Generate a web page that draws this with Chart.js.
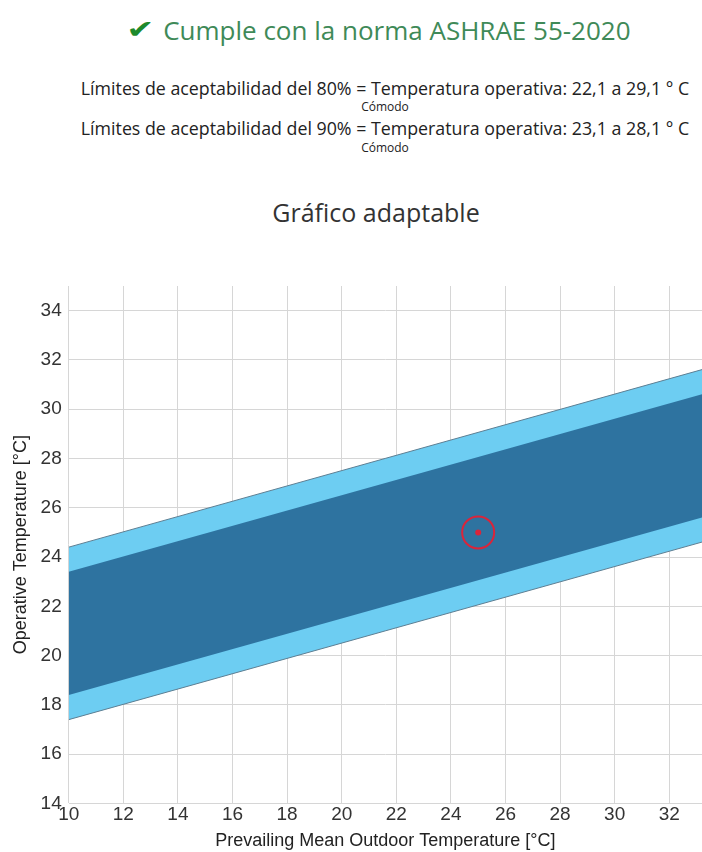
<!DOCTYPE html>
<html>
<head>
<meta charset="utf-8">
<script src="https://cdn.jsdelivr.net/npm/chart.js@4"></script>
<style>
    html, body { margin: 0; padding: 0; background: #fff; overflow: hidden; }
    body { width: 702px; height: 852px; position: relative; font-family: "Open Sans", sans-serif; }
    .head { position: absolute; left: 0; text-align: center; color: #333; white-space: nowrap; }
    #status { top: 12px; width: 758px; font-size: 26px; line-height: 34px; color: #3f8a58; }
    #status .tick { display: inline-block; font-family: "DejaVu Sans", sans-serif; color: #1d8a2c; font-size: 32px; margin-right: 9px; transform: scale(1.05, 0.8); }
    .limit { width: 770px; font-size: 17.8px; line-height: 24px; color: #222; }
    .note { width: 770px; font-size: 12px; line-height: 16px; color: #222; }
    #title { top: 195px; width: 752px; font-size: 25px; line-height: 34px; color: #333; }
    #chart-box { position: absolute; left: 0; top: 262px; width: 702px; height: 590px; }
</style>
</head>
<body>
<div class="head" id="status"><span class="tick">✔</span>Cumple con la norma ASHRAE 55-2020</div>
<div class="head limit" style="top: 76px;">Límites de aceptabilidad del 80% = Temperatura operativa: 22,1 a 29,1 ° C</div>
<div class="head note" style="top: 99px;">Cómodo</div>
<div class="head limit" style="top: 116px;">Límites de aceptabilidad del 90% = Temperatura operativa: 23,1 a 28,1 ° C</div>
<div class="head note" style="top: 140px;">Cómodo</div>
<div class="head" id="title">Gráfico adaptable</div>
<div id="chart-box"><canvas id="adaptive-chart"></canvas></div>
<script>
// prevailing mean outdoor temperature at the two ends of the bands
const outdoorTemps = [10, 33.5];
const upper80 = [24.4, 31.7];
const lower80 = [17.4, 24.7];
const upper90 = [23.4, 30.7];
const lower90 = [18.4, 25.7];
const currentPoint = [{ x: 25, y: 25 }];

const toPoints = (ys) => outdoorTemps.map((x, i) => ({ x: x, y: ys[i] }));

const ctx = document.getElementById("adaptive-chart");

const band = (label, ys, color, border, fill, order) => ({
    label: label,
    data: toPoints(ys),
    showLine: true,
    pointRadius: 0,
    borderColor: border,
    borderWidth: border ? 1 : 0,
    backgroundColor: color,
    fill: fill,
    order: order
});

const chartData = {
    datasets: [
        {
            label: "punto",
            data: currentPoint,
            pointRadius: 16,
            pointBorderWidth: 2,
            pointBorderColor: "#d9253b",
            pointBackgroundColor: "rgba(0,0,0,0)",
            order: 0
        },
        {
            label: "centro",
            data: currentPoint,
            pointRadius: 3,
            pointBorderWidth: 0,
            pointBackgroundColor: "#d9253b",
            order: 0
        },
        band("90% superior", upper90, "#2e73a0", null, false, 1),
        band("90% inferior", lower90, "#2e73a0", null, "-1", 1),
        band("80% superior", upper80, "#6dcdf2", "#5e7f93", false, 2),
        band("80% inferior", lower80, "#6dcdf2", "#5e7f93", "-1", 2)
    ]
};

const tickFont = { family: "Liberation Sans, Arial, sans-serif", size: 19, lineHeight: 1 };
const titleFont = { family: "Liberation Sans, Arial, sans-serif", size: 18 };

const chartOptions = {
    responsive: true,
    maintainAspectRatio: false,
    animation: false,
    layout: { autoPadding: false, padding: { top: 24, right: 0, left: 10, bottom: 0 } },
    plugins: {
        legend: { display: false },
        tooltip: { enabled: false }
    },
    scales: {
        x: {
            type: "linear",
            min: 10,
            max: 33.2,
            afterFit: (scale) => { scale.paddingRight = 0; },
            grid: { color: "#d6d6d6", drawTicks: false },
            border: { display: false },
            ticks: { stepSize: 2, includeBounds: false, color: "#333", font: tickFont, padding: 2 },
            title: { display: true, text: "Prevailing Mean Outdoor Temperature [°C]", color: "#222", font: titleFont, padding: { top: 4, bottom: 0 } }
        },
        y: {
            type: "linear",
            min: 14,
            max: 35,
            grid: { color: "#d6d6d6", drawTicks: false },
            border: { display: false },
            ticks: { stepSize: 2, includeBounds: false, color: "#333", font: tickFont, padding: 7 },
            title: { display: true, text: "Operative Temperature [°C]", color: "#222", font: titleFont, padding: { top: 0, bottom: 2 } }
        }
    }
};

new Chart(ctx, {
    type: "scatter",
    data: chartData,
    options: chartOptions
});
</script>
</body>
</html>
